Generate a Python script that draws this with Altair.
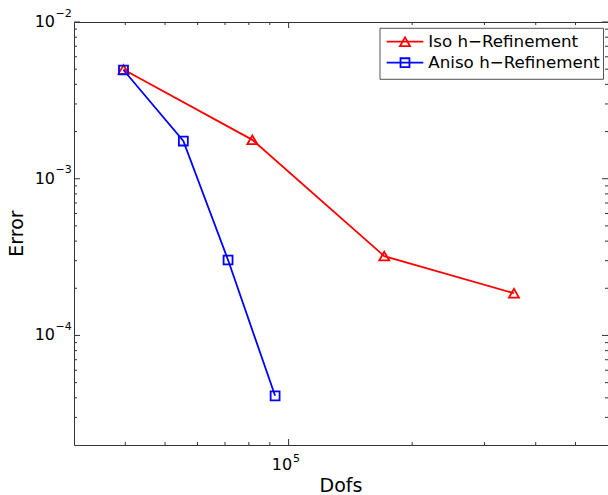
import altair as alt
import pandas as pd

# ---- data ----
iso_dofs = [3.96e4, 8.16e4, 1.71e5, 3.54e5]
iso_err = [4.98e-3, 1.77e-3, 3.21e-4, 1.86e-4]
aniso_dofs = [3.96e4, 5.54e4, 7.12e4, 9.27e4]
aniso_err = [4.94e-3, 1.74e-3, 3.03e-4, 4.12e-5]

series_names = ["Iso h\u2212Refinement", "Aniso h\u2212Refinement"]

x_major = [1e5]
x_major_exp = ["5"]
x_minor = [4e4, 5e4, 6e4, 7e4, 8e4, 9e4, 2e5, 3e5, 4e5, 5e5]
y_major = [1e-4, 1e-3, 1e-2]
y_major_exp = ["\u22124", "\u22123", "\u22122"]
y_minor = [3e-5, 4e-5, 5e-5, 6e-5, 7e-5, 8e-5, 9e-5,
           2e-4, 3e-4, 4e-4, 5e-4, 6e-4, 7e-4, 8e-4, 9e-4,
           2e-3, 3e-3, 4e-3, 5e-3, 6e-3, 7e-3, 8e-3, 9e-3]

# ---- layout / style ----
W, H = 534, 423
RED, BLUE = "#ff0000", "#0000ff"
AX = "#333333"
FONT = "DejaVu Sans"

xs = alt.Scale(type="log", domain=[3e4, 6e5], nice=False)
ys = alt.Scale(type="log", domain=[2e-5, 1e-2], nice=False)

iso_df = pd.DataFrame({"dofs": iso_dofs, "err": iso_err})
aniso_df = pd.DataFrame({"dofs": aniso_dofs, "err": aniso_err})

X = alt.X("dofs:Q", scale=xs, axis=None)
Y = alt.Y("err:Q", scale=ys, axis=None)

iso_line = alt.Chart(iso_df).mark_line(color=RED, strokeWidth=1.8).encode(x=X, y=Y)
iso_pts = alt.Chart(iso_df).mark_point(shape="triangle-up", filled=False, color=RED,
                                       size=100, strokeWidth=1.8, opacity=1).encode(x=X, y=Y)
an_line = alt.Chart(aniso_df).mark_line(color=BLUE, strokeWidth=1.8).encode(x=X, y=Y)
an_pts = alt.Chart(aniso_df).mark_point(shape="square", filled=False, color=BLUE,
                                        size=80, strokeWidth=1.8, opacity=1).encode(x=X, y=Y)

# ---- ticks (inward, on all four sides) ----
xmaj = pd.DataFrame({"v": x_major, "base": ["10"] * len(x_major), "exp": x_major_exp})
xmin = pd.DataFrame({"v": x_minor})
ymaj = pd.DataFrame({"v": y_major, "base": ["10"] * len(y_major), "exp": y_major_exp})
ymin = pd.DataFrame({"v": y_minor})

XV = alt.X("v:Q", scale=xs, axis=None)
YV = alt.Y("v:Q", scale=ys, axis=None)

def xticks(df, L):
    b = alt.Chart(df).mark_rule(color=AX, strokeWidth=1).encode(
        x=XV, y=alt.value(H), y2=alt.value(H - L))
    t = alt.Chart(df).mark_rule(color=AX, strokeWidth=1).encode(
        x=XV, y=alt.value(0), y2=alt.value(L))
    return [b, t]

def yticks(df, L):
    l = alt.Chart(df).mark_rule(color=AX, strokeWidth=1).encode(
        y=YV, x=alt.value(0), x2=alt.value(L))
    r = alt.Chart(df).mark_rule(color=AX, strokeWidth=1).encode(
        y=YV, x=alt.value(W), x2=alt.value(W - L))
    return [l, r]

ticks = xticks(xmaj, 6) + xticks(xmin, 3) + yticks(ymaj, 6) + yticks(ymin, 3)

# ---- tick labels with superscript exponents ----
x_base = alt.Chart(xmaj).mark_text(align="right", baseline="middle", fontSize=16,
                                   font=FONT, color="black", dx=3.5).encode(
    x=XV, y=alt.value(H + 20), text="base:N")
x_exp = alt.Chart(xmaj).mark_text(align="left", baseline="middle", fontSize=11,
                                  font=FONT, color="black", dx=4.5).encode(
    x=XV, y=alt.value(H + 13.5), text="exp:N")
y_base = alt.Chart(ymaj).mark_text(align="right", baseline="middle", fontSize=16,
                                   font=FONT, color="black").encode(
    x=alt.value(-19), y=YV, text="base:N")
y_exp = alt.Chart(ymaj).mark_text(align="left", baseline="middle", fontSize=11,
                                  font=FONT, color="black", dy=-8.5).encode(
    x=alt.value(-18.5), y=YV, text="exp:N")

# ---- axis titles ----
xt = alt.Chart(pd.DataFrame({"t": ["Dofs"]})).mark_text(
    fontSize=19, font=FONT, color="black", baseline="middle").encode(
    x=alt.value(W / 2), y=alt.value(H + 41), text="t:N")
yt = alt.Chart(pd.DataFrame({"t": ["Error"]})).mark_text(
    fontSize=19, font=FONT, color="black", baseline="middle", angle=270).encode(
    x=alt.value(-57.5), y=alt.value(H / 2), text="t:N")

# ---- legend ----
one = pd.DataFrame({"a": [0]})
leg_box = alt.Chart(one).mark_rect(fill="white", stroke="#262626", strokeWidth=0.8).encode(
    x=alt.value(306), x2=alt.value(529.5), y=alt.value(6.3), y2=alt.value(57.3))
leg = [leg_box]
for name, col, shp, sz, yy in [(series_names[0], RED, "triangle-up", 100, 19.7),
                                (series_names[1], BLUE, "square", 80, 40.7)]:
    ldf = pd.DataFrame({"t": [name]})
    leg.append(alt.Chart(ldf).mark_rule(color=col, strokeWidth=1.8).encode(
        x=alt.value(312.7), x2=alt.value(349.3), y=alt.value(yy)))
    leg.append(alt.Chart(ldf).mark_point(shape=shp, filled=False, color=col, size=sz,
                                         strokeWidth=1.8, opacity=1).encode(
        x=alt.value(331), y=alt.value(yy)))
    leg.append(alt.Chart(ldf).mark_text(align="left", baseline="middle", fontSize=16.7,
                                        font=FONT, color="black").encode(
        x=alt.value(354.3), y=alt.value(yy + 0.5), text="t:N"))

chart = alt.layer(
    *ticks, iso_line, an_line, iso_pts, an_pts,
    x_base, x_exp, y_base, y_exp, xt, yt, *leg
).properties(
    width=W, height=H,
    autosize=alt.AutoSizeParams(type="none"),
    padding={"left": 74, "top": 22, "right": 0, "bottom": 50},
    background="white",
).configure_view(stroke=AX, strokeWidth=1)

chart.save("out.html", embed_options={"renderer": "svg", "actions": False})
